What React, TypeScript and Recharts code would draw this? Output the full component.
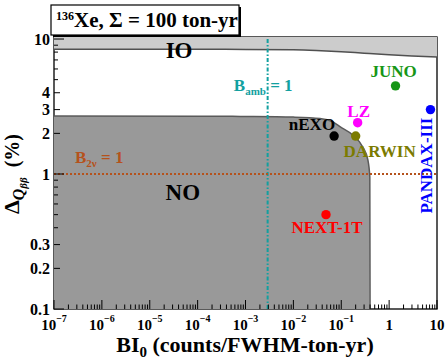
import { ComposedChart, Area, Scatter, XAxis, YAxis, ReferenceLine, ReferenceDot, Customized } from 'recharts';

const FONT = "'Liberation Serif', 'Times New Roman', serif";

// IO band: lower edge (band fills up to the top of the frame)
const ioBI = [1e-7, 1e-4, 1e-3, 1e-2, 0.03, 0.1, 0.3, 1, 3, 10];
const ioLow = [8.4, 8.4, 8.38, 8.32, 8.22, 8.05, 7.85, 7.65, 7.5, 7.37];

// NO region: upper edge (fills down to the bottom)
const noBI = [1e-7, 1e-4, 1e-3, 1e-2, 0.036, 0.067, 0.094, 0.175, 0.28, 0.36, 0.395, 0.4];
const noHigh = [2.69, 2.68, 2.67, 2.64, 2.58, 2.43, 2.24, 1.94, 1.59, 1.27, 0.95, 0.1];

const experiments = ['nEXO', 'DARWIN', 'LZ', 'JUNO', 'PANDAX-III', 'NEXT-1T'];
const expBI = [0.071, 0.2, 0.22, 1.36, 7.3, 0.048];
const expDQ = [1.91, 1.91, 2.4, 4.5, 3.0, 0.5];

const bAmb = 0.0029;
const b2nu = 1;

const xTicks = [1e-7, 1e-6, 1e-5, 1e-4, 1e-3, 1e-2, 1e-1, 1, 10].flatMap((d) =>
  d === 10 ? [10] : [1, 2, 3, 4, 5, 6, 7, 8, 9].map((m) => m * d)
);
const yTicks = [0.1, 0.2, 0.3, 0.4, 0.5, 0.6, 0.7, 0.8, 0.9, 1, 2, 3, 4, 5, 6, 7, 8, 9, 10];
const yLabeled = [0.1, 0.2, 0.3, 1, 2, 3, 4, 10];

const ioData = ioBI.map((x, i) => ({ x, y: ioLow[i] }));
const noData = noBI.map((x, i) => ({ x, y: noHigh[i] }));
const expData = experiments.map((name, i) => ({ x: expBI[i], y: expDQ[i], name }));

const expStyle: Record<string, { color: string; dx: number; dy: number; anchor: string; rotate?: boolean }> = {
  nEXO: { color: '#000000', dx: 1, dy: -6, anchor: 'end' },
  DARWIN: { color: '#7b7b00', dx: 24, dy: 21, anchor: 'middle' },
  LZ: { color: '#ff00ff', dx: 1, dy: -6, anchor: 'middle' },
  JUNO: { color: '#169616', dx: -2, dy: -9, anchor: 'middle' },
  'PANDAX-III': { color: '#0000ff', dx: 2, dy: 56, anchor: 'middle', rotate: true },
  'NEXT-1T': { color: '#ff0000', dx: 1, dy: 18.5, anchor: 'middle' },
};

const isDecade = (v: number) => Math.abs(Math.log10(v) - Math.round(Math.log10(v))) < 1e-6;

function XTick({ x, y, payload }: any) {
  const v = payload.value;
  const major = isDecade(v);
  const e = Math.round(Math.log10(v));
  return (
    <g>
      <line x1={x} x2={x} y1={y} y2={y - (major ? 9 : 4.5)} stroke="#000" strokeWidth={1} />
      {major && (
        <text x={x} y={y + 21} textAnchor="middle" fontFamily={FONT} fontWeight="bold" fontSize={15} fill="#000">
          {e === 0 ? '1' : e === 1 ? '10' : (
            <>
              10<tspan dy={-8} fontSize={10}>{'\u2212' + -e}</tspan>
            </>
          )}
        </text>
      )}
    </g>
  );
}

function YTick({ x, y, payload }: any) {
  const v = payload.value;
  const labeled = yLabeled.some((t) => Math.abs(t - v) < 1e-9);
  const len = isDecade(v) ? 10 : labeled ? 6 : 4;
  return (
    <g>
      <line x1={x} x2={x + len} y1={y} y2={y} stroke="#000" strokeWidth={1} />
      {labeled && (
        <text x={x - 4} y={y + 5.5} textAnchor="end" fontFamily={FONT} fontWeight="bold" fontSize={16} fill="#000">
          {String(v)}
        </text>
      )}
    </g>
  );
}

function ExpShape(props: any) {
  const { cx, cy, payload } = props;
  const s = expStyle[payload.name];
  const tx = cx + s.dx;
  const ty = cy + s.dy;
  return (
    <g>
      <circle cx={cx} cy={cy} r={4.7} fill={s.color} />
      <text
        x={tx}
        y={ty}
        textAnchor={s.anchor}
        transform={s.rotate ? `rotate(-90 ${tx} ${ty})` : undefined}
        fontFamily={FONT}
        fontWeight="bold"
        fontSize={17}
        fill={s.color}
      >
        {payload.name}
      </text>
    </g>
  );
}

const note = (content: React.ReactNode, anchor: string, color: string, size: number) => (p: any) => (
  <text x={p.cx} y={p.cy} textAnchor={anchor} fontFamily={FONT} fontWeight="bold" fontSize={size} fill={color}>
    {content}
  </text>
);

function Decorations() {
  return (
    <g fontFamily={FONT} fontWeight="bold">
      <rect x={54} y={37} width={383} height={272} fill="none" stroke="#000" strokeWidth={1.3} />
      <rect x={53} y={7} width={188} height={30} fill="#000" />
      <rect x={51} y={5} width={188} height={30} fill="#fff" stroke="#000" strokeWidth={1.2} />
      <text x={56} y={27} fontSize={21} fill="#000">
        <tspan fontSize={12} dy={-7}>136</tspan>
        <tspan dy={7}>Xe, Σ = 100 ton-yr</tspan>
      </text>
      <text x={245} y={351.5} textAnchor="middle" fontSize={22} fill="#000">
        BI<tspan fontSize={15} dy={5}>0</tspan>
        <tspan dy={-5}> (counts/FWHM-ton-yr)</tspan>
      </text>
      <text x={19} y={174} textAnchor="middle" transform="rotate(-90 19 174)" fill="#000" fontSize={20}>
        <tspan fontSize={22}>Δ</tspan>
        <tspan fontSize={16} fontStyle="italic" dy={5}>Q</tspan>
        <tspan fontSize={11} fontStyle="italic" dy={3}>ββ</tspan>
        <tspan dy={-8} dx={10}>(%)</tspan>
      </text>
    </g>
  );
}

export default function App() {
  return (
    <div style={{ position: 'absolute', left: 0, top: 0, background: '#fff' }}>
      <ComposedChart width={447} height={364} data={ioData} margin={{ top: 37, right: 10, left: 0, bottom: 0 }}>
        <Area
          data={ioData}
          dataKey="y"
          type="monotoneX"
          baseValue="dataMax"
          fill="#cccccc"
          fillOpacity={1}
          stroke="#505050"
          strokeWidth={1.5}
          isAnimationActive={false}
        />
        <Area
          data={noData}
          dataKey="y"
          type="monotoneX"
          baseValue="dataMin"
          fill="#999999"
          fillOpacity={1}
          stroke="#5a5a5a"
          strokeWidth={1.5}
          isAnimationActive={false}
        />
        <XAxis
          dataKey="x"
          type="number"
          scale="log"
          domain={[1e-7, 10]}
          allowDataOverflow
          ticks={xTicks}
          interval={0}
          tickSize={0}
          tickMargin={0}
          tickLine={false}
          axisLine={false}
          height={55}
          tick={<XTick />}
        />
        <YAxis
          dataKey="y"
          type="number"
          scale="log"
          domain={[0.1, 10.35]}
          allowDataOverflow
          ticks={yTicks}
          interval={0}
          tickSize={0}
          tickMargin={0}
          tickLine={false}
          axisLine={false}
          width={54}
          tick={<YTick />}
        />
        <ReferenceLine x={bAmb} stroke="#12a0a0" strokeWidth={2} strokeDasharray="4 2 1.5 2" />
        <ReferenceLine y={b2nu} stroke="#b5521c" strokeWidth={2} strokeDasharray="2 2" />
        <ReferenceDot x={4.1e-5} y={7.2} r={1} shape={note('IO', 'middle', '#000', 23)} />
        <ReferenceDot x={4.9e-5} y={0.64} r={1} shape={note('NO', 'middle', '#000', 23)} />
        <ReferenceDot
          x={5.7e-4}
          y={4.12}
          r={1}
          shape={note(
            <>
              B<tspan fontSize={11} dy={4}>amb</tspan>
              <tspan dy={-4}> = 1</tspan>
            </>,
            'start',
            '#12a0a0',
            17
          )}
        />
        <ReferenceDot
          x={2.74e-7}
          y={1.21}
          r={1}
          shape={note(
            <>
              B<tspan fontSize={11} dy={4}>2ν</tspan>
              <tspan dy={-4}> = 1</tspan>
            </>,
            'start',
            '#b5521c',
            17
          )}
        />
        <Scatter data={expData} dataKey="y" shape={<ExpShape />} isAnimationActive={false} />
        <Customized component={<Decorations />} />
      </ComposedChart>
    </div>
  );
}
